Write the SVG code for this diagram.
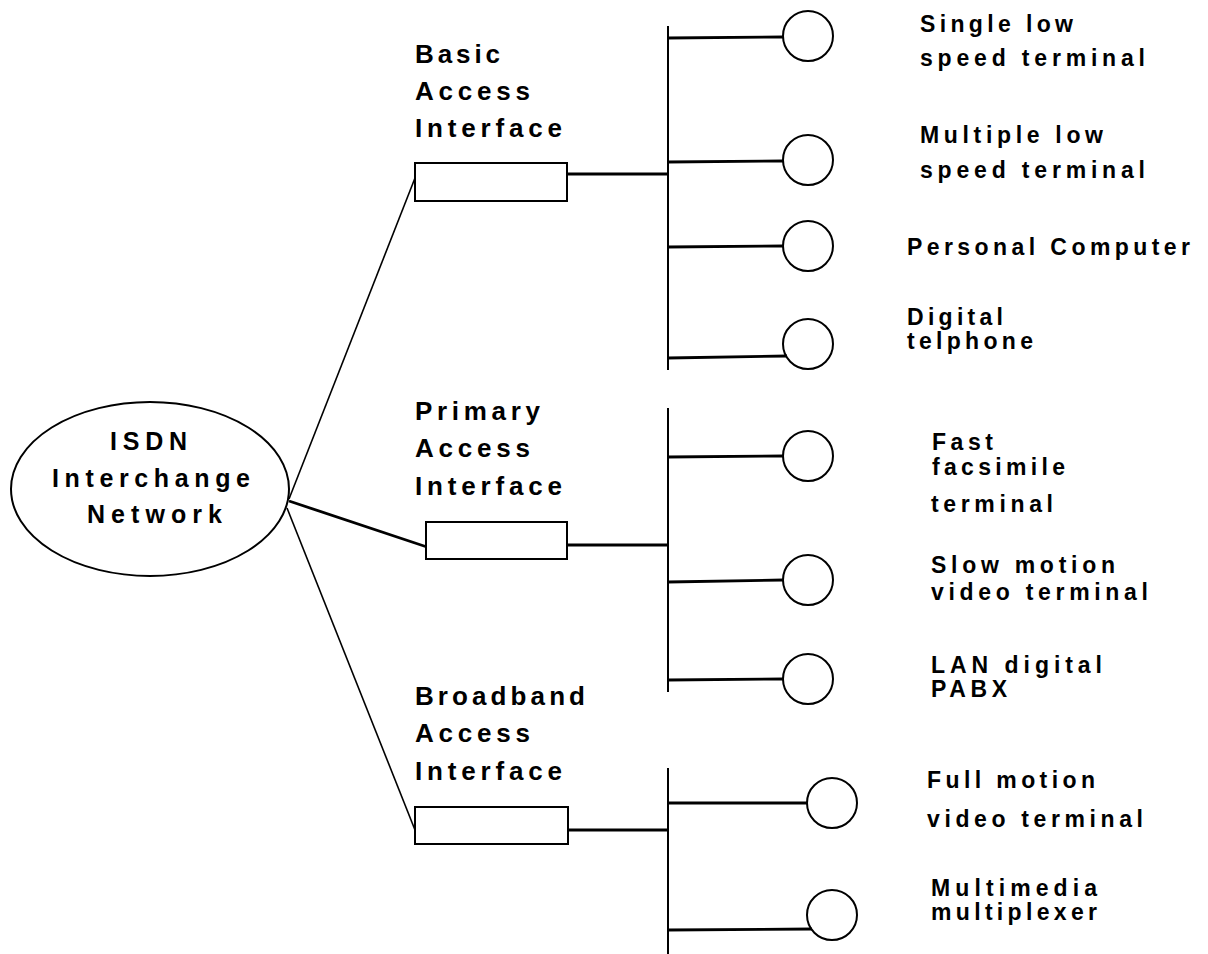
<svg xmlns="http://www.w3.org/2000/svg" width="1208" height="954" viewBox="0 0 1208 954">
<style>
text{font-family:"Liberation Sans",Arial,sans-serif;font-weight:bold;fill:#000}
.l{font-size:26px}
.r{font-size:23px}
.c{font-size:25px}
.s{fill:none;stroke:#000;stroke-width:2}
.box{fill:#fff;stroke:#000;stroke-width:2}
.bus{stroke:#000;stroke-width:2;fill:none}
.br{stroke:#000;stroke-width:2.8;fill:none}
.thin{stroke:#000;stroke-width:1.6;fill:none}
</style>
<rect width="1208" height="954" fill="#fff"/>
<g id="connectors">
<line class="thin" x1="289" y1="499" x2="415" y2="178"/>
<line class="br" x1="289" y1="501" x2="427" y2="547"/>
<line class="thin" x1="287" y1="508" x2="415" y2="830"/>
<line class="br" x1="567" y1="174" x2="668" y2="174"/>
<line class="br" x1="567" y1="545" x2="668" y2="545"/>
<line class="br" x1="568" y1="830" x2="668" y2="830"/>
<line class="bus" x1="668" y1="26" x2="668" y2="370"/>
<line class="bus" x1="668" y1="408" x2="668" y2="692"/>
<line class="bus" x1="668" y1="768" x2="668" y2="954"/>
<line class="br" x1="668" y1="38" x2="783" y2="37"/>
<line class="br" x1="668" y1="162" x2="783" y2="161"/>
<line class="br" x1="668" y1="247" x2="783" y2="246"/>
<line class="br" x1="668" y1="358" x2="787" y2="356"/>
<line class="br" x1="668" y1="457" x2="783" y2="456"/>
<line class="br" x1="668" y1="582" x2="783" y2="580"/>
<line class="br" x1="668" y1="680" x2="783" y2="679"/>
<line class="br" x1="668" y1="803" x2="807" y2="803"/>
<line class="br" x1="668" y1="930" x2="812" y2="929"/>
</g>
<g id="isdn">
<ellipse class="s" cx="150" cy="489" rx="139" ry="87"/>
<text class="c" x="110" y="450" textLength="77" lengthAdjust="spacing">ISDN</text>
<text class="c" x="52" y="487" textLength="198" lengthAdjust="spacing">Interchange</text>
<text class="c" x="87" y="523" textLength="135" lengthAdjust="spacing">Network</text>
</g>
<g id="basic">
<rect class="box" x="415" y="163" width="152" height="38"/>
<text class="l" x="415" y="63" textLength="85" lengthAdjust="spacing">Basic</text>
<text class="l" x="415" y="100" textLength="115" lengthAdjust="spacing">Access</text>
<text class="l" x="415" y="137" textLength="147" lengthAdjust="spacing">Interface</text>
</g>
<g id="primary">
<rect class="box" x="426" y="522" width="141" height="37"/>
<text class="l" x="415" y="420" textLength="125" lengthAdjust="spacing">Primary</text>
<text class="l" x="415" y="457" textLength="115" lengthAdjust="spacing">Access</text>
<text class="l" x="415" y="495" textLength="147" lengthAdjust="spacing">Interface</text>
</g>
<g id="broadband">
<rect class="box" x="415" y="807" width="153" height="37"/>
<text class="l" x="415" y="705" textLength="170" lengthAdjust="spacing">Broadband</text>
<text class="l" x="415" y="742" textLength="115" lengthAdjust="spacing">Access</text>
<text class="l" x="415" y="780" textLength="147" lengthAdjust="spacing">Interface</text>
</g>
<g id="t1">
<circle class="s" cx="808" cy="36" r="25"/>
<text class="r" x="920" y="32" textLength="153" lengthAdjust="spacing">Single low</text>
<text class="r" x="920" y="66" textLength="225" lengthAdjust="spacing">speed terminal</text>
</g>
<g id="t2">
<circle class="s" cx="808" cy="160" r="25"/>
<text class="r" x="920" y="143" textLength="183" lengthAdjust="spacing">Multiple low</text>
<text class="r" x="920" y="178" textLength="225" lengthAdjust="spacing">speed terminal</text>
</g>
<g id="t3">
<circle class="s" cx="808" cy="246" r="25"/>
<text class="r" x="907" y="255" textLength="283" lengthAdjust="spacing">Personal Computer</text>
</g>
<g id="t4">
<circle class="s" cx="808" cy="344" r="25"/>
<text class="r" x="907" y="325" textLength="96" lengthAdjust="spacing">Digital</text>
<text class="r" x="907" y="349" textLength="126" lengthAdjust="spacing">telphone</text>
</g>
<g id="t5">
<circle class="s" cx="808" cy="456" r="25"/>
<text class="r" x="932" y="450" textLength="61" lengthAdjust="spacing">Fast</text>
<text class="r" x="932" y="475" textLength="133" lengthAdjust="spacing">facsimile</text>
<text class="r" x="931" y="512" textLength="122" lengthAdjust="spacing">terminal</text>
</g>
<g id="t6">
<circle class="s" cx="808" cy="580" r="25"/>
<text class="r" x="931" y="573" textLength="184" lengthAdjust="spacing">Slow motion</text>
<text class="r" x="931" y="600" textLength="217" lengthAdjust="spacing">video terminal</text>
</g>
<g id="t7">
<circle class="s" cx="808" cy="679" r="25"/>
<text class="r" x="931" y="673" textLength="171" lengthAdjust="spacing">LAN digital</text>
<text class="r" x="931" y="697" textLength="76" lengthAdjust="spacing">PABX</text>
</g>
<g id="t8">
<circle class="s" cx="832" cy="803" r="25"/>
<text class="r" x="927" y="788" textLength="168" lengthAdjust="spacing">Full motion</text>
<text class="r" x="927" y="827" textLength="216" lengthAdjust="spacing">video terminal</text>
</g>
<g id="t9">
<circle class="s" cx="832" cy="915" r="25"/>
<text class="r" x="931" y="896" textLength="166" lengthAdjust="spacing">Multimedia</text>
<text class="r" x="931" y="920" textLength="166" lengthAdjust="spacing">multiplexer</text>
</g>
</svg>
